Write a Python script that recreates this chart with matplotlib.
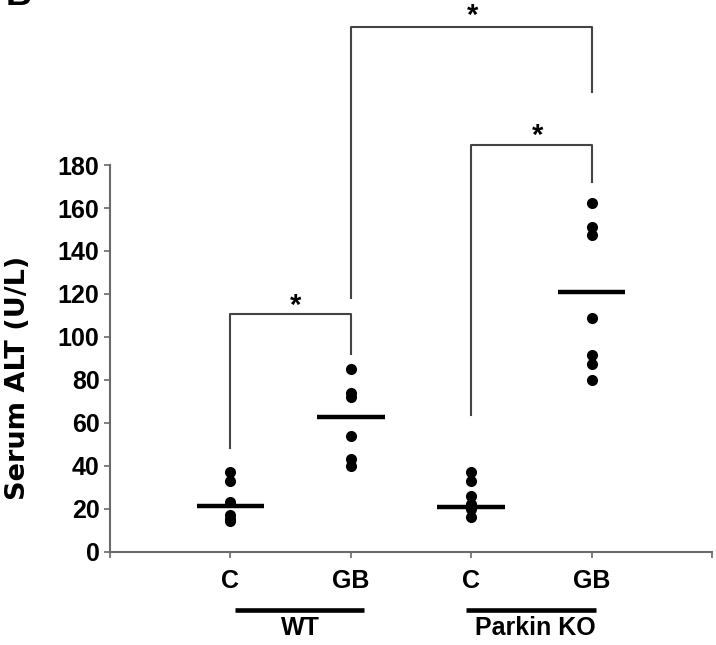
import matplotlib
matplotlib.use("Agg")
import matplotlib.pyplot as plt

plt.rcParams['font.family'] = ['Liberation Sans', 'DejaVu Sans']
plt.rcParams['font.weight'] = 'bold'

# Serum ALT per mouse (U/L)
categories = ["C", "GB", "C", "GB"]
groups = ["WT", "Parkin KO"]
wt_c = [37, 33, 23, 17, 15, 14]
wt_gb = [85, 74, 72, 54, 43, 40]
ko_c = [37, 33, 26, 22, 20, 16]
ko_gb = [162.5, 151, 147.5, 109, 91.5, 87.5, 80]
group_means = [21.2, 62.8, 20.9, 121.0]
y_ticks = [0, 20, 40, 60, 80, 100, 120, 140, 160, 180]

series = [wt_c, wt_gb, ko_c, ko_gb]
positions = [1, 2, 3, 4]

W, H = 716, 645
fig = plt.figure(figsize=(W / 100, H / 100), dpi=100)
ax = fig.add_axes([110 / W, (H - 551.5) / H, 602 / W, 551.5 / H])
ax.set_xlim(0, 5)
ax.set_ylim(0, 256.9)

line_col = "#444444"
spine_col = "#6a6a6a"

for x, vals, m in zip(positions, series, group_means):
    ax.plot([x] * len(vals), vals, 'o', color='black', markersize=8,
            markeredgewidth=0, zorder=3)
    ax.plot([x - 0.28, x + 0.28], [m, m], color='black', lw=3.2,
            solid_capstyle='butt', zorder=4)

# significance brackets
def bracket(x0, x1, y_left, y_right, y_top, star_x, star_y):
    ax.plot([x0, x0, x1, x1], [y_left, y_top, y_top, y_right],
            color=line_col, lw=1.5, clip_on=False, zorder=2)
    ax.text(star_x, star_y, "*", ha='center', va='center',
            fontsize=21, fontweight='bold', clip_on=False)

bracket(1, 2, 48.2, 92.0, 110.4, 1.545, 114.5)
bracket(2, 4, 118.1, 214.2, 244.4, 3.015, 249.5)
bracket(3, 4, 63.6, 172.2, 189.3, 3.555, 193.5)

# axes styling
for s in ("top", "right"):
    ax.spines[s].set_visible(False)
for s in ("left", "bottom"):
    ax.spines[s].set_color(spine_col)
    ax.spines[s].set_linewidth(1.5)
ax.spines['left'].set_bounds(0, 180)
ax.set_yticks(y_ticks)
ax.set_yticklabels([str(v) for v in y_ticks], fontsize=18, fontweight='bold')
ax.set_xticks([0] + positions + [5])
ax.set_xticklabels([""] + categories + [""], fontsize=18, fontweight='bold')
ax.tick_params(axis='both', colors=spine_col, length=4.5, width=1.2,
               labelcolor='black')
ax.tick_params(axis='y', pad=3)
ax.tick_params(axis='x', pad=8)

# y-axis title
fig.text(18 / W, 1 - 377.5 / H, "Serum ALT (U/L)", rotation=90,
         ha='center', va='center', fontsize=19.5, fontweight='bold',
         family=['DejaVu Sans'])

# group underlines and labels
trans = ax.get_xaxis_transform()
y_line = -(610 - 551.5) / 551.5
y_lab = -(628 - 551.5) / 551.5
for (a, b), name, cx in zip([(1.04, 2.11), (2.96, 4.04)], groups, [1.58, 3.53]):
    ax.plot([a, b], [y_line, y_line], color='black', lw=3.3, transform=trans,
            clip_on=False, solid_capstyle='butt')
    ax.text(cx, y_lab, name, transform=trans, ha='center', va='center',
            fontsize=18, fontweight='bold')

# panel letter
fig.text(6 / W, 1 - 5 / H, "B", fontsize=26, fontweight='bold',
         ha='left', va='baseline')

fig.savefig("out.png", dpi=100)
